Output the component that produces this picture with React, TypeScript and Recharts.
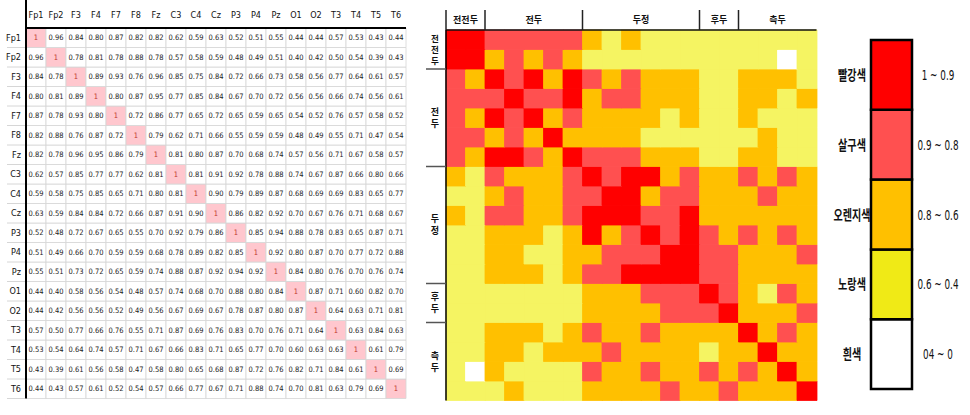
import { Bar, BarChart, Cell, LabelList, XAxis, YAxis } from "recharts"

const channels = ["Fp1", "Fp2", "F3", "F4", "F7", "F8", "Fz", "C3", "C4", "Cz", "P3", "P4", "Pz", "O1", "O2", "T3", "T4", "T5", "T6"]

const rowFp1 = [1, 0.96, 0.84, 0.8, 0.87, 0.82, 0.82, 0.62, 0.59, 0.63, 0.52, 0.51, 0.55, 0.44, 0.44, 0.57, 0.53, 0.43, 0.44]
const rowFp2 = [0.96, 1, 0.78, 0.81, 0.78, 0.88, 0.78, 0.57, 0.58, 0.59, 0.48, 0.49, 0.51, 0.4, 0.42, 0.5, 0.54, 0.39, 0.43]
const rowF3 = [0.84, 0.78, 1, 0.89, 0.93, 0.76, 0.96, 0.85, 0.75, 0.84, 0.72, 0.66, 0.73, 0.58, 0.56, 0.77, 0.64, 0.61, 0.57]
const rowF4 = [0.8, 0.81, 0.89, 1, 0.8, 0.87, 0.95, 0.77, 0.85, 0.84, 0.67, 0.7, 0.72, 0.56, 0.56, 0.66, 0.74, 0.56, 0.61]
const rowF7 = [0.87, 0.78, 0.93, 0.8, 1, 0.72, 0.86, 0.77, 0.65, 0.72, 0.65, 0.59, 0.65, 0.54, 0.52, 0.76, 0.57, 0.58, 0.52]
const rowF8 = [0.82, 0.88, 0.76, 0.87, 0.72, 1, 0.79, 0.62, 0.71, 0.66, 0.55, 0.59, 0.59, 0.48, 0.49, 0.55, 0.71, 0.47, 0.54]
const rowFz = [0.82, 0.78, 0.96, 0.95, 0.86, 0.79, 1, 0.81, 0.8, 0.87, 0.7, 0.68, 0.74, 0.57, 0.56, 0.71, 0.67, 0.58, 0.57]
const rowC3 = [0.62, 0.57, 0.85, 0.77, 0.77, 0.62, 0.81, 1, 0.81, 0.91, 0.92, 0.78, 0.88, 0.74, 0.67, 0.87, 0.66, 0.8, 0.66]
const rowC4 = [0.59, 0.58, 0.75, 0.85, 0.65, 0.71, 0.8, 0.81, 1, 0.9, 0.79, 0.89, 0.87, 0.68, 0.69, 0.69, 0.83, 0.65, 0.77]
const rowCz = [0.63, 0.59, 0.84, 0.84, 0.72, 0.66, 0.87, 0.91, 0.9, 1, 0.86, 0.82, 0.92, 0.7, 0.67, 0.76, 0.71, 0.68, 0.67]
const rowP3 = [0.52, 0.48, 0.72, 0.67, 0.65, 0.55, 0.7, 0.92, 0.79, 0.86, 1, 0.85, 0.94, 0.88, 0.78, 0.83, 0.65, 0.87, 0.71]
const rowP4 = [0.51, 0.49, 0.66, 0.7, 0.59, 0.59, 0.68, 0.78, 0.89, 0.82, 0.85, 1, 0.92, 0.8, 0.87, 0.7, 0.77, 0.72, 0.88]
const rowPz = [0.55, 0.51, 0.73, 0.72, 0.65, 0.59, 0.74, 0.88, 0.87, 0.92, 0.94, 0.92, 1, 0.84, 0.8, 0.76, 0.7, 0.76, 0.74]
const rowO1 = [0.44, 0.4, 0.58, 0.56, 0.54, 0.48, 0.57, 0.74, 0.68, 0.7, 0.88, 0.8, 0.84, 1, 0.87, 0.71, 0.6, 0.82, 0.7]
const rowO2 = [0.44, 0.42, 0.56, 0.56, 0.52, 0.49, 0.56, 0.67, 0.69, 0.67, 0.78, 0.87, 0.8, 0.87, 1, 0.64, 0.63, 0.71, 0.81]
const rowT3 = [0.57, 0.5, 0.77, 0.66, 0.76, 0.55, 0.71, 0.87, 0.69, 0.76, 0.83, 0.7, 0.76, 0.71, 0.64, 1, 0.63, 0.84, 0.63]
const rowT4 = [0.53, 0.54, 0.64, 0.74, 0.57, 0.71, 0.67, 0.66, 0.83, 0.71, 0.65, 0.77, 0.7, 0.6, 0.63, 0.63, 1, 0.61, 0.79]
const rowT5 = [0.43, 0.39, 0.61, 0.56, 0.58, 0.47, 0.58, 0.8, 0.65, 0.68, 0.87, 0.72, 0.76, 0.82, 0.71, 0.84, 0.61, 1, 0.69]
const rowT6 = [0.44, 0.43, 0.57, 0.61, 0.52, 0.54, 0.57, 0.66, 0.77, 0.67, 0.71, 0.88, 0.74, 0.7, 0.81, 0.63, 0.79, 0.69, 1]

const matrix = [rowFp1, rowFp2, rowF3, rowF4, rowF7, rowF8, rowFz, rowC3, rowC4, rowCz, rowP3, rowP4, rowPz, rowO1, rowO2, rowT3, rowT4, rowT5, rowT6]

const regionNames = ["전전두", "전두", "두정", "후두", "측두"]
const regionSizes = [2, 5, 6, 2, 4]

const legendNames = ["빨강색", "살구색", "오렌지색", "노랑색", "흰색"]
const legendRanges = ["1 ~ 0.9", "0.9 ~ 0.8", "0.8 ~ 0.6", "0.6 ~ 0.4", "04 ~ 0"]
const legendColors = ["#ff0000", "#ff5050", "#ffc000", "#f0ea16", "#ffffff"]
const heatColors = ["#ff0000", "#ff5050", "#ffc000", "#f5f462", "#ffffff"]

const N = channels.length
const NARROW = "'Liberation Sans Narrow', 'DejaVu Sans Condensed', Arial, sans-serif"
const KR = "'Noto Sans CJK KR', 'Noto Sans', sans-serif"

const TABLE_COL = 20
const ROW_H = 370.5 / N
const HEAT_CELL = 370.5 / N

// colour band of a correlation value (0 = red ... 4 = white)
function band(v: number) {
  if (v >= 0.9) return 0
  if (v >= 0.8) return 1
  if (v > 0.6) return 2
  if (v >= 0.4) return 3
  return 4
}

const cellData = channels.map((name, c) => {
  const entry: Record<string, number | string> = { name }
  matrix.forEach((vals, r) => {
    entry[`r${r}`] = 1
    entry[`v${r}`] = vals[c]
  })
  return entry
})

// first stacked bar sits at the bottom, so stack rows in reverse
const rowOrder = channels.map((_, i) => N - 1 - i)
const rowTicks = channels.map((_, r) => N - r - 0.5)
const tickToRow = (v: number) => Math.round(N - 0.5 - v)

const groupStarts = regionSizes.map((_, g) => regionSizes.slice(0, g).reduce((a, b) => a + b, 0))

const legendData = [
  legendNames.reduce((acc, _, i) => ({ ...acc, [`l${i}`]: 1 }), { name: "범례" } as Record<string, number | string>),
]
const legendOrder = legendNames.map((_, i) => legendNames.length - 1 - i)

function TableHeadTick({ x, payload, index }: any) {
  return (
    <g>
      {index === 0 && (
        <line x1={x - TABLE_COL / 2} x2={x - TABLE_COL / 2} y1={0} y2={28} stroke="#000" strokeWidth={2} />
      )}
      <text x={x} y={15} dy={3} textAnchor="middle" fontFamily={NARROW} fontSize={9} fill="#111">
        {payload.value}
      </text>
    </g>
  )
}

function TableRowTick({ y, payload }: any) {
  const r = tickToRow(payload.value)
  return (
    <g>
      <line x1={7} x2={25} y1={y + ROW_H / 2} y2={y + ROW_H / 2} stroke="#d6d6d6" />
      <text x={21} y={y} dy={3} textAnchor="end" fontFamily={NARROW} fontSize={9} fill="#111">
        {channels[r]}
      </text>
    </g>
  )
}

function CellText(p: any) {
  const vb = p.viewBox ?? p
  const v = Number(p.value)
  const diag = v === 1
  return (
    <text
      x={vb.x + vb.width / 2}
      y={vb.y + vb.height / 2}
      dy={2.7}
      textAnchor="middle"
      fontFamily={NARROW}
      fontSize={7.5}
      fill={diag ? "#c0392b" : "#222"}
    >
      {diag ? "1" : v.toFixed(2)}
    </text>
  )
}

function RegionTopTick({ x, index }: any) {
  const g = groupStarts.indexOf(index)
  if (g < 0) return <g />
  const left = x - HEAT_CELL / 2
  return (
    <g>
      <line x1={left} x2={left} y1={10} y2={30} stroke="#222" strokeWidth={1.5} />
      <text
        x={x + ((regionSizes[g] - 1) / 2) * HEAT_CELL}
        y={20}
        dy={3}
        textAnchor="middle"
        fontFamily={KR}
        fontWeight={700}
        fontSize={9}
        fill="#111"
      >
        {regionNames[g]}
      </text>
    </g>
  )
}

function RegionSideTick({ y, payload }: any) {
  const r = tickToRow(payload.value)
  const g = groupStarts.indexOf(r)
  if (g < 0) return <g />
  const top = y - HEAT_CELL / 2
  const cy = y + ((regionSizes[g] - 1) / 2) * HEAT_CELL
  const chars = [...regionNames[g]]
  const small = chars.length > 2
  const step = small ? 11 : 12
  const size = small ? 8.5 : 9
  return (
    <g>
      {r > 0 && <line x1={16} x2={36} y1={top} y2={top} stroke="#555" strokeWidth={1.5} />}
      {chars.map((ch, i) => (
        <text
          key={i}
          x={25}
          y={cy + (i - (chars.length - 1) / 2) * step}
          dy={3.3}
          textAnchor="middle"
          fontFamily={KR}
          fontWeight={700}
          fontSize={size}
          fill="#111"
        >
          {ch}
        </text>
      ))}
    </g>
  )
}

function LegendText({ i, ...p }: any) {
  const vb = p.viewBox ?? p
  const cy = vb.y + vb.height / 2
  return (
    <g>
      <text
        transform={`translate(${vb.x - 19},${cy}) scale(0.72,1)`}
        dy={5}
        textAnchor="middle"
        fontFamily={KR}
        fontWeight={700}
        fontSize={14}
        fill="#111"
      >
        {legendNames[i]}
      </text>
      <text
        transform={`translate(${vb.x + vb.width + 26},${cy}) scale(0.7,1)`}
        dy={5}
        textAnchor="middle"
        fontFamily={NARROW}
        fontSize={14}
        fill="#111"
      >
        {legendRanges[i]}
      </text>
    </g>
  )
}

export default function App() {
  return (
    <div style={{ position: "absolute", left: 0, top: 0, width: 970, height: 415, background: "#fff" }}>
      <div style={{ position: "absolute", left: 0, top: 0 }}>
        <BarChart
          width={410}
          height={415}
          data={cellData}
          margin={{ top: 0, right: 4, bottom: 16.5, left: 0 }}
          barCategoryGap={0}
        >
          <XAxis
            dataKey="name"
            orientation="top"
            height={28}
            interval={0}
            tickLine={false}
            axisLine={{ stroke: "#000", strokeWidth: 2 }}
            tick={<TableHeadTick />}
          />
          <YAxis
            type="number"
            domain={[0, N]}
            ticks={rowTicks}
            width={26}
            interval={0}
            tickLine={false}
            axisLine={{ stroke: "#000", strokeWidth: 2 }}
            tick={<TableRowTick />}
          />
          {rowOrder.map((r) => (
            <Bar key={r} dataKey={`r${r}`} stackId="t" isAnimationActive={false}>
              {channels.map((_, c) => (
                <Cell key={c} fill={r === c ? "#ffc7ce" : "#ffffff"} stroke="#d6d6d6" strokeWidth={0.8} />
              ))}
              <LabelList dataKey={`v${r}`} content={(p: any) => <CellText {...p} />} />
            </Bar>
          ))}
        </BarChart>
      </div>

      <div style={{ position: "absolute", left: 410, top: 0 }}>
        <BarChart
          width={410}
          height={415}
          data={cellData}
          margin={{ top: 0, right: 3.5, bottom: 14.5, left: 0 }}
          barCategoryGap={0}
        >
          <XAxis
            dataKey="name"
            orientation="top"
            height={30}
            interval={0}
            tickLine={false}
            axisLine={{ stroke: "#111", strokeWidth: 1.5 }}
            tick={<RegionTopTick />}
          />
          <YAxis
            type="number"
            domain={[0, N]}
            ticks={rowTicks}
            width={36}
            interval={0}
            tickLine={false}
            axisLine={{ stroke: "#000", strokeWidth: 1.5 }}
            tick={<RegionSideTick />}
          />
          {rowOrder.map((r) => (
            <Bar key={r} dataKey={`r${r}`} stackId="h" isAnimationActive={false}>
              {matrix[r].map((v, c) => {
                const col = heatColors[band(v)]
                return <Cell key={c} fill={col} stroke={col} strokeWidth={0.8} />
              })}
            </Bar>
          ))}
        </BarChart>
      </div>

      <div style={{ position: "absolute", left: 820, top: 0 }}>
        <BarChart
          width={150}
          height={415}
          data={legendData}
          margin={{ top: 40, right: 58, bottom: 26, left: 51 }}
          barCategoryGap={0}
        >
          <XAxis dataKey="name" hide />
          <YAxis type="number" hide domain={[0, legendNames.length]} />
          {legendOrder.map((i) => (
            <Bar
              key={i}
              dataKey={`l${i}`}
              stackId="l"
              fill={legendColors[i]}
              stroke="#000"
              strokeWidth={2.5}
              isAnimationActive={false}
            >
              <LabelList content={(p: any) => <LegendText {...p} i={i} />} />
            </Bar>
          ))}
        </BarChart>
      </div>
    </div>
  )
}
